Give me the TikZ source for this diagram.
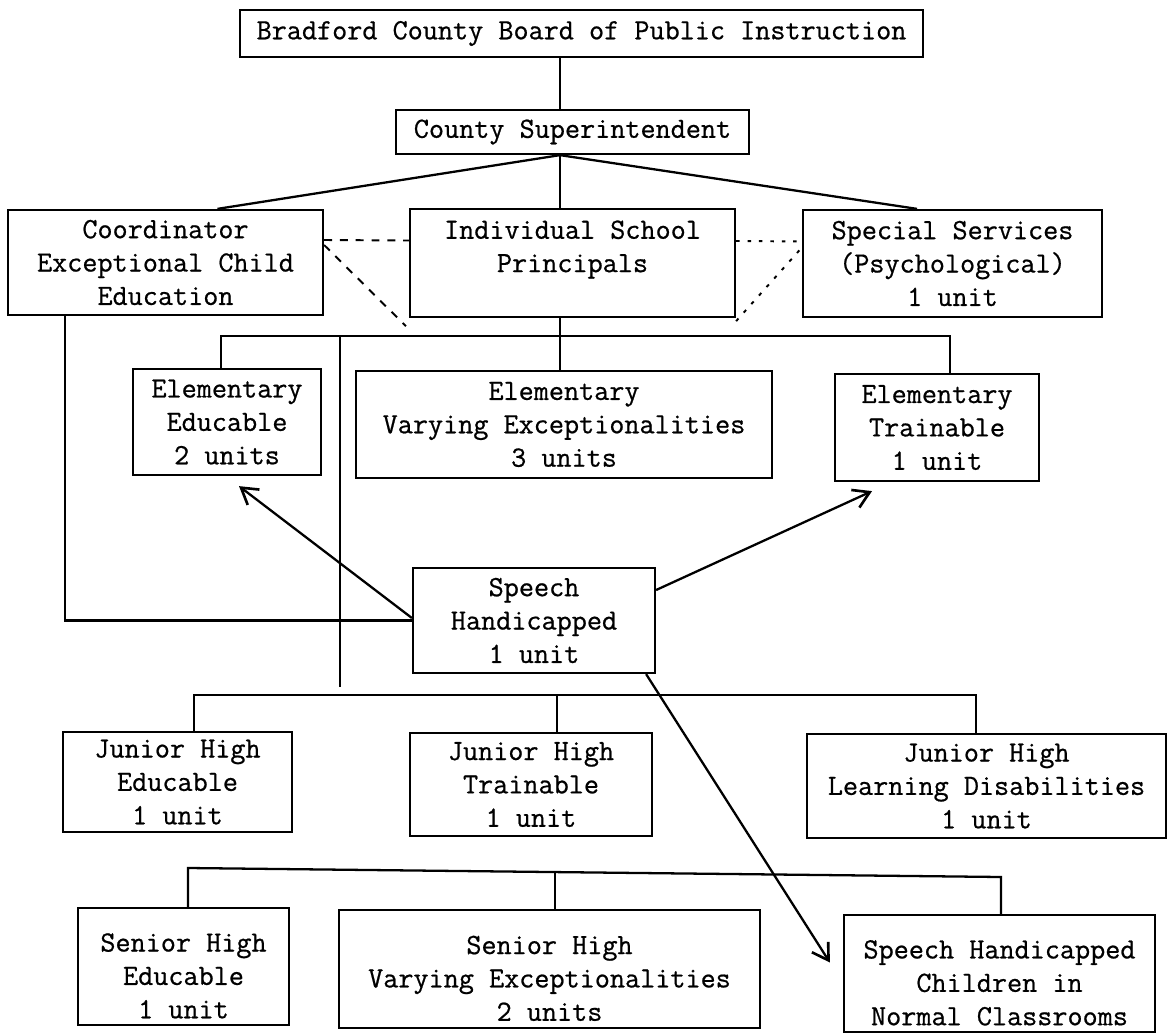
\documentclass[tikz,border=0pt]{standalone}
\usepackage{fontspec}
\newfontfamily\typer[FakeBold=0.7]{Latin Modern Mono}
\usetikzlibrary{arrows.meta}

\begin{document}
\begin{tikzpicture}[x=0.02cm, y=-0.02cm,
office/.style = {draw, line width=1.3pt, align=center, inner sep=0pt,
  font=\typer\fontsize{16.7}{19}\selectfont},
link/.style = {line width=1.3pt},
pointer/.style = {line width=1.3pt, -{Straight Barb[length=9pt,width=11pt,line width=1.5pt]}},
staff/.style = {line width=1.1pt, dash pattern=on 4.5pt off 4.5pt},
aide/.style = {line width=1.1pt, dash pattern=on 2pt off 4.5pt}]
\useasboundingbox (0,0) rectangle (1168,1033);

\node[office, minimum width=13.66cm, minimum height=0.94cm] (board) at (581.5,33.5)
    {Bradford County Board of Public Instruction};
\node[office, minimum width=7.06cm, minimum height=0.88cm] (super) at (572.5,132)
    {County Superintendent};
\node[office, minimum width=6.3cm, minimum height=2.1cm] (coord) at (165.5,262.5)
    {Coordinator\\Exceptional Child\\Education};
\node[office, minimum width=6.5cm, minimum height=2.16cm] (princ) at (572.5,263)
    {Individual School\\Principals\\\mbox{}};
\node[office, minimum width=5.98cm, minimum height=2.14cm] (spec) at (952.5,263.5)
    {Special Services\\(Psychological)\\1 unit};
\node[office, minimum width=3.76cm, minimum height=2.12cm] (eleme) at (227,422)
    {Elementary\\Educable\\2 units};
\node[office, minimum width=8.32cm, minimum height=2.14cm] (elemv) at (564,424.5)
    {Elementary\\Varying Exceptionalities\\3 units};
\node[office, minimum width=4.08cm, minimum height=2.14cm] (elemt) at (937,427.5)
    {Elementary\\Trainable\\1 unit};
\node[office, minimum width=4.84cm, minimum height=2.1cm] (speech) at (534,620.5)
    {Speech\\Handicapped\\1 unit};
\node[office, minimum width=4.58cm, minimum height=2cm] (jhe) at (177.5,782)
    {Junior High\\Educable\\1 unit};
\node[office, minimum width=4.84cm, minimum height=2.06cm] (jht) at (531,784.5)
    {Junior High\\Trainable\\1 unit};
\node[office, minimum width=7.18cm, minimum height=2.08cm] (jhl) at (986.5,786)
    {Junior High\\Learning Disabilities\\1 unit};
\node[office, minimum width=4.22cm, minimum height=2.34cm] (she) at (183.5,966.5)
    {\rule{0pt}{0.74cm}Senior High\\Educable\\1 unit};
\node[office, minimum width=8.42cm, minimum height=2.36cm] (shv) at (549.5,969)
    {\rule{0pt}{0.74cm}Senior High\\Varying Exceptionalities\\2 units};
\node[office, minimum width=6.22cm, minimum height=2.34cm] (shs) at (999.5,973.5)
    {\rule{0pt}{0.74cm}Speech Handicapped\\Children in\\Normal Classrooms};

\coordinate (trunk) at (560,0);
\coordinate (eb1) at (221,336);
\coordinate (eb2) at (560,336);
\coordinate (eb3) at (950,336);
\coordinate (gap) at (340,687);
\coordinate (jb1) at (194,695);
\coordinate (jb2) at (557,695);
\coordinate (jb3) at (976,695);
\coordinate (sb1) at (188,868);
\coordinate (sb2) at (555,872);
\coordinate (sb3) at (1001,877);

\draw[link] (trunk |- board.south) -- (trunk |- super.north);
\draw[link] (trunk |- super.south) -- (trunk |- princ.north);
\draw[link] ([xshift=1.04cm]coord.north) -- (trunk |- super.south) -- ([xshift=-0.71cm]spec.north);
\draw[link] ([xshift=-2.01cm]coord.south) |- (speech.west);

\draw[staff] ([yshift=0.45cm]coord.east) -- ([yshift=0.45cm]princ.west);
\draw[staff] ([yshift=0.35cm]coord.east) -- ([xshift=-0.06cm,yshift=-0.16cm]princ.south west);
\draw[aide] ([yshift=0.44cm]princ.east) -- ([yshift=0.44cm]spec.west);
\draw[aide] ([yshift=-0.06cm]princ.south east) -- ([yshift=0.32cm]spec.west);

\draw[link] (eb1 |- eleme.north) -- (eb1) -- (eb3) -- (eb3 |- elemt.north);
\draw[link] (eb2 |- princ.south) -- (eb2 |- elemv.north);
\draw[link] (gap |- eb1) -- (gap);

\draw[link] (jb1 |- jhe.north) -- (jb1) -- (jb3) -- (jb3 |- jhl.north);
\draw[link] (jb2) -- (jb2 |- jht.north);
\draw[link] (sb1 |- she.north) -- (sb1) -- (sb3) -- (sb3 |- shs.north);
\draw[link] (sb2) -- (sb2 |- shv.north);

\draw[pointer] ([yshift=0.05cm]speech.west) -- ([xshift=0.24cm,yshift=-0.2cm]eleme.south);
\draw[pointer] ([yshift=0.61cm]speech.east) -- ([xshift=-1.3cm,yshift=-0.18cm]elemt.south);
\draw[pointer] ([xshift=-0.2cm]speech.south east) -- ([xshift=-0.26cm,yshift=0.22cm]shs.west);
\end{tikzpicture}
\end{document}
